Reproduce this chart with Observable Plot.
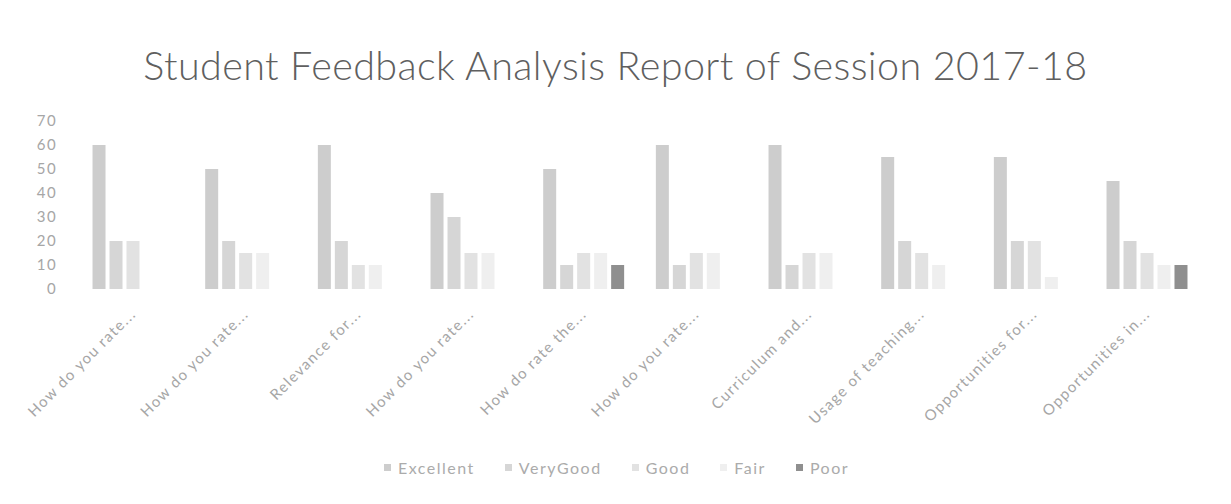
<!DOCTYPE html>
<html>
<head>
<meta charset="utf-8">
<script src="https://cdn.jsdelivr.net/npm/d3@7"></script>
<script src="https://cdn.jsdelivr.net/npm/@observablehq/plot@0.6"></script>
<style>
  html, body { margin: 0; padding: 0; background: #ffffff; }
  body { width: 1231px; height: 504px; overflow: hidden; font-family: Lato, "Open Sans", sans-serif; }
  #title { height: 100px; box-sizing: border-box; padding-top: 43px; text-align: center; font-size: 39.5px; font-weight: 300; color: #5f5f5f; line-height: 44px; letter-spacing: 0.4px; }
  #chart { height: 345px; }
  #legend { display: flex; justify-content: center; gap: 30px; margin-top: 13px; font-size: 16px; letter-spacing: 1.5px; color: #ababab; padding-left: 2px; }
  #legend .item { display: flex; align-items: center; gap: 7px; }
  #legend .sw { width: 7px; height: 7px; display: inline-block; }
</style>
</head>
<body>
<div id="title">Student Feedback Analysis Report of Session 2017-18</div>
<div id="chart"></div>
<div id="legend"></div>
<script>
const categories = ["How do you rate...", "How do you rate...", "Relevance for...", "How do you rate...", "How do rate the...", "How do you rate...", "Curriculum and...", "Usage of teaching...", "Opportunities for...", "Opportunities in..."];
const seriesNames = ["Excellent", "VeryGood", "Good", "Fair", "Poor"];
const excellent = [60, 50, 60, 40, 50, 60, 60, 55, 55, 45];
const veryGood  = [20, 20, 20, 30, 10, 10, 10, 20, 20, 20];
const good      = [20, 15, 10, 15, 15, 15, 15, 15, 20, 15];
const fair      = [0, 15, 10, 15, 15, 15, 15, 10, 5, 10];
const poor      = [0, 0, 0, 0, 10, 0, 0, 0, 0, 10];
const yTicks = [0, 10, 20, 30, 40, 50, 60, 70];
const colors = ["#cdcdcd", "#d6d6d6", "#e2e2e2", "#efefef", "#8f8f8f"];

const seriesValues = [excellent, veryGood, good, fair, poor];
const data = [];
categories.forEach((c, i) => {
  seriesNames.forEach((s, j) => {
    data.push({idx: i, series: s, value: seriesValues[j][i]});
  });
});

const chart = Plot.plot({
  width: 1231,
  height: 345,
  marginLeft: 77,
  marginRight: 28,
  marginTop: 21,
  marginBottom: 156,
  style: {fontFamily: "Lato, 'Open Sans', sans-serif", fontSize: "15px", color: "#a6a6a6", background: "transparent", letterSpacing: "1.4px"},
  fx: {domain: d3.range(categories.length), paddingInner: 0.246, paddingOuter: 0.12, round: false, label: null},
  x: {domain: seriesNames, paddingInner: 0.235, paddingOuter: 0.1175, round: false, axis: null},
  y: {domain: [0, 70], label: null},
  color: {domain: seriesNames, range: colors},
  marks: [
    Plot.barY(data, {fx: "idx", x: "series", y: "value", fill: "series"}),
    Plot.axisY({ticks: yTicks, tickSize: 0, tickPadding: 34, label: null, fontSize: 15}),
    Plot.axisFx({anchor: "bottom", tickRotate: -45, tickSize: 0, tickPadding: 22, label: null, fontSize: 15, tickFormat: i => categories[i]})
  ]
});
document.getElementById("chart").appendChild(chart);

const legend = document.getElementById("legend");
seriesNames.forEach((s, j) => {
  const it = document.createElement("span");
  it.className = "item";
  const sw = document.createElement("span");
  sw.className = "sw";
  sw.style.background = colors[j];
  const t = document.createElement("span");
  t.textContent = s;
  it.appendChild(sw);
  it.appendChild(t);
  legend.appendChild(it);
});
</script>
</body>
</html>
